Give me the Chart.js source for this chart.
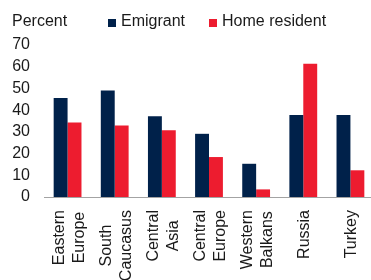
<!DOCTYPE html>
<html>
<head>
<meta charset="utf-8">
<script src="https://cdn.jsdelivr.net/npm/chart.js@4/dist/chart.umd.min.js"></script>
<style>
  body { margin: 0; background: #fff; }
  .wrap { position: relative; width: 371px; height: 280px; overflow: hidden; }
  .head { position: absolute; top: 13px; left: 0; width: 371px; font: 16px "Liberation Sans", Arial, sans-serif; line-height: 16px; color: #1a1a1a; }
  .unit { position: absolute; left: 12px; top: 0; }
  .legend { position: absolute; left: 108px; top: 0; display: flex; align-items: center; white-space: nowrap; }
  .item { display: flex; align-items: center; margin-right: 24px; }
  .box { width: 8px; height: 8px; margin-top: 3px; margin-right: 5px; }
  canvas { position: absolute; top: 0; left: 0; }
</style>
</head>
<body>
<div class="wrap">
  <canvas id="myChart" width="374" height="280"></canvas>
  <div class="head">
    <span class="unit">Percent</span>
    <div class="legend"></div>
  </div>
</div>
<script>
const categories = [
    ['Eastern', 'Europe'],
    ['South', 'Caucasus'],
    ['Central', 'Asia'],
    ['Central', 'Europe'],
    ['Western', 'Balkans'],
    ['Russia'],
    ['Turkey']
];
const emigrant = [45.6, 49.1, 37.2, 29.1, 15.3, 37.8, 37.8];
const homeResident = [34.3, 32.9, 30.7, 18.4, 3.5, 61.4, 12.3];
const yMin = 0;
const yMax = 70;
const yStep = 10;

const navy = '#00214a';
const red = '#ed1c2f';
const textColor = '#1a1a1a';
const fontFamily = '"Liberation Sans", Arial, sans-serif';

// x labels: rotated, each line centred on the longest one
const xLabels = {
    id: 'xLabels',
    afterDraw(chart) {
        const ctx = chart.ctx;
        const x = chart.scales.x;
        ctx.save();
        ctx.font = '16px ' + fontFamily;
        ctx.fillStyle = textColor;
        ctx.textAlign = 'center';
        ctx.textBaseline = 'alphabetic';
        categories.forEach((lines, i) => {
            const px = x.getPixelForTick(i);
            const maxW = Math.max(...lines.map(l => ctx.measureText(l).width));
            const cy = x.top + 13 + maxW / 2;
            lines.forEach((line, j) => {
                const off = (j - (lines.length - 1) / 2) * 20;
                ctx.save();
                ctx.translate(px + off + 6, cy);
                ctx.rotate(-Math.PI / 2);
                ctx.fillText(line, 0, 0);
                ctx.restore();
            });
        });
        ctx.restore();
    }
};

const ctx = document.getElementById('myChart').getContext('2d');
const chart = new Chart(ctx, {
    type: 'bar',
    data: {
        labels: categories,
        datasets: [{
            label: 'Emigrant',
            backgroundColor: navy,
            data: emigrant
        }, {
            label: 'Home resident',
            backgroundColor: red,
            data: homeResident
        }]
    },
    options: {
        responsive: false,
        animation: false,
        layout: { padding: { top: 45, left: 0, right: 0, bottom: 0 } },
        datasets: { bar: { categoryPercentage: 0.59, barPercentage: 1.0 } },
        plugins: {
            legend: { display: false },
            tooltip: { enabled: false }
        },
        scales: {
            x: {
                grid: { display: false },
                border: { display: true, color: '#a3a3a3', width: 1 },
                ticks: { display: false },
                afterFit(scale) { scale.height = 83; }
            },
            y: {
                min: yMin,
                max: yMax,
                grid: { display: false, drawTicks: false },
                border: { display: false },
                ticks: {
                    stepSize: yStep,
                    autoSkip: false,
                    padding: 14,
                    color: textColor,
                    font: { family: fontFamily, size: 16 }
                },
                afterFit(scale) { scale.width = 44; }
            }
        }
    },
    plugins: [xLabels]
});

// html legend from the datasets
const legendBox = document.querySelector('.legend');
chart.data.datasets.forEach(ds => {
    legendBox.insertAdjacentHTML('beforeend', `
        <span class="item"><span class="box" style="background:${ds.backgroundColor}"></span>${ds.label}</span>
    `);
});
</script>
</body>
</html>
